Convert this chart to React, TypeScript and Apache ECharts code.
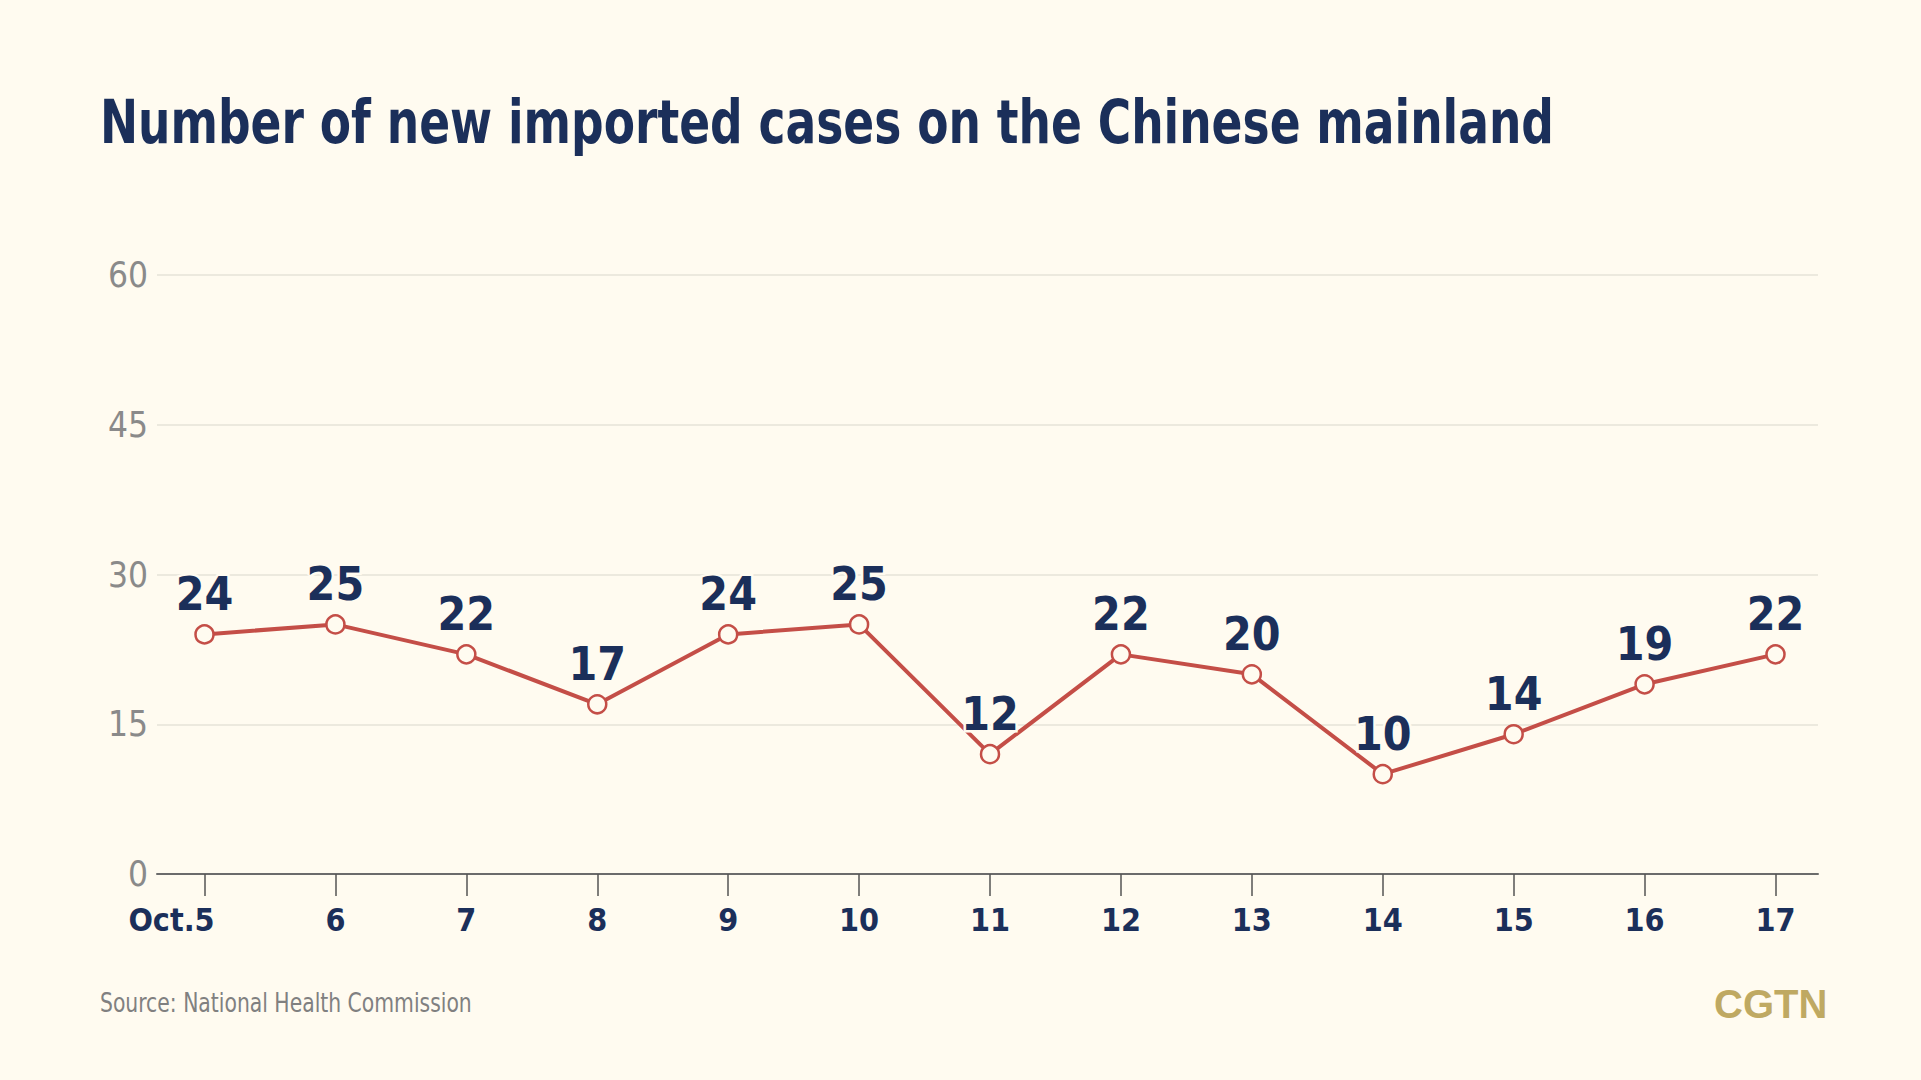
import React, { useEffect, useRef } from "react";
import * as echarts from "echarts";

const categories = ["Oct.5", "6", "7", "8", "9", "10", "11", "12", "13", "14", "15", "16", "17"];
const newImported = [24, 25, 22, 17, 24, 25, 12, 22, 20, 10, 14, 19, 22];
const yTicks = { min: 0, max: 60, interval: 15 };

const titleText = "Number of new imported cases on the Chinese mainland";
const sourceText = "Source: National Health Commission";
const brandText = "CGTN";

const BG = "#fffbf0";
const NAVY = "#1b2f5a";
const RED = "#c44e47";
const NARROW = "'DejaVu Sans Condensed', 'DejaVu Sans', sans-serif";

export default function App() {
  const ref = useRef<HTMLDivElement>(null);
  useEffect(() => {
    document.body.style.margin = "0";
    document.body.style.background = BG;
    const chart = echarts.init(ref.current!, undefined, { renderer: "svg" });
    const gridTop = 275;
    const gridBottom = 206;
    const xLabelStyle = { fontFamily: NARROW, fontWeight: "bold", fontSize: 32, color: NAVY };
    chart.setOption({
      animation: false,
      backgroundColor: BG,
      graphic: [
        {
          type: "text",
          x: 100,
          y: 91,
          scaleX: 0.83,
          style: { text: titleText, fontFamily: NARROW, fontWeight: "bold", fontSize: 61, fill: NAVY, verticalAlign: "top" },
        },
        {
          type: "text",
          x: 100,
          y: 990,
          scaleX: 0.87,
          style: { text: sourceText, fontFamily: NARROW, fontSize: 26, fill: "#808080", verticalAlign: "top" },
        },
        {
          type: "text",
          left: 1714,
          top: 984,
          style: { text: brandText, fontFamily: "'Liberation Sans', Arial, sans-serif", fontWeight: "bold", fontSize: 40, fill: "#bfa962" },
        },
      ],
      grid: [
        { left: 157, right: 103, top: gridTop, bottom: gridBottom },
        { left: 204.5, right: 145.5, top: gridTop, bottom: gridBottom },
      ],
      xAxis: [
        {
          gridIndex: 0,
          type: "value",
          min: 0,
          max: 1,
          axisLine: { show: true, lineStyle: { color: "#6b6b6b", width: 2 } },
          axisTick: { show: false },
          axisLabel: { show: false },
          splitLine: { show: false },
        },
        {
          gridIndex: 1,
          type: "category",
          data: categories,
          boundaryGap: false,
          axisLine: { show: false },
          axisTick: { show: true, interval: 0, length: 22, lineStyle: { color: "#555555", width: 1.5 } },
          axisLabel: {
            interval: 0,
            hideOverlap: false,
            margin: 30,
            ...xLabelStyle,
            formatter: (v: string, i: number) => (i === 0 ? "{first|" + v + "}" : "{n|" + v + "}"),
            rich: {
              first: { ...xLabelStyle, padding: [0, 66, 0, 0] },
              n: { ...xLabelStyle },
            },
          },
          splitLine: { show: false },
        },
      ],
      yAxis: [
        {
          gridIndex: 0,
          type: "value",
          min: yTicks.min,
          max: yTicks.max,
          interval: yTicks.interval,
          axisLine: { show: false },
          axisTick: { show: false },
          axisLabel: { margin: 9, fontFamily: NARROW, fontSize: 35, color: "#8a8a8a" },
          splitLine: { show: true, lineStyle: { color: "#e6e3d8", width: 1.5 } },
        },
        {
          gridIndex: 1,
          type: "value",
          min: yTicks.min,
          max: yTicks.max,
          interval: yTicks.interval,
          show: false,
          splitLine: { show: false },
        },
      ],
      series: [
        {
          type: "line",
          xAxisIndex: 1,
          yAxisIndex: 1,
          data: newImported,
          symbol: "circle",
          symbolSize: 18,
          lineStyle: { color: RED, width: 4 },
          itemStyle: { color: BG, borderColor: RED, borderWidth: 2.5 },
          label: {
            show: true,
            position: "top",
            distance: 7,
            fontFamily: NARROW,
            fontWeight: "bold",
            fontSize: 46,
            color: NAVY,
            textBorderColor: BG,
            textBorderWidth: 5,
          },
          z: 3,
        },
      ],
    });
    return () => chart.dispose();
  }, []);
  return <div ref={ref} style={{ width: 1921, height: 1080 }} />;
}
